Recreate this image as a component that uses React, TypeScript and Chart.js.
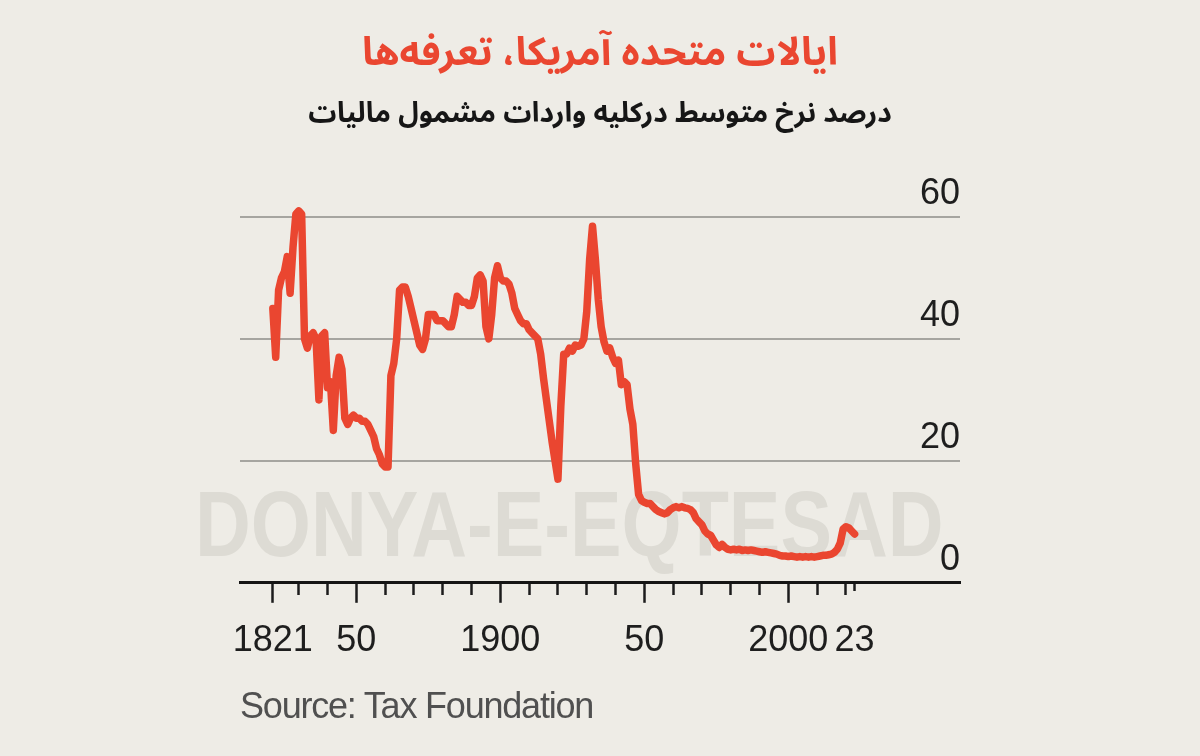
import React, { useEffect, useRef } from 'react';
import { Chart, registerables } from 'chart.js';

Chart.register(...registerables);

// ---- data (average tariff rate on dutiable imports, %) ----
const FIRST_YEAR = 1821;
const TARIFF_RATE: number[] = [
  // 1821-1830
  45, 37, 48, 50, 51, 53.5, 47.5, 55, 60.5, 61,
  // 1831-1840
  60.5, 40, 38.5, 40.5, 41, 40, 30, 40.5, 41, 32,
  // 1841-1850
  33, 25, 34, 37, 35, 27, 26, 27, 27.5, 27,
  // 1851-1860
  27, 26.5, 26.5, 26, 25, 24, 22, 21, 19.5, 19,
  // 1861-1870
  19, 34, 36, 40, 48, 48.5, 48.5, 47, 45, 43,
  // 1871-1880
  41, 39, 38.3, 40, 44, 44, 44, 43, 43, 43,
  // 1881-1890
  42.5, 42, 42, 44, 47, 46.5, 46, 46, 45.5, 45.5,
  // 1891-1900
  47, 50, 50.5, 49.5, 42, 40, 44, 50, 52, 50,
  // 1901-1910
  49.5, 49.5, 49, 47.5, 45, 44, 43, 42.5, 42.5, 41.5,
  // 1911-1920
  41, 40.5, 40, 37.5, 33.5, 30, 26.5, 23, 20, 17,
  // 1921-1930
  29, 37.5, 37.5, 38.5, 38, 39, 38.8, 39, 40, 44.5,
  // 1931-1940
  53, 58.5, 53, 46.5, 42, 39.5, 38, 38.5, 37, 36,
  // 1941-1950
  36.5, 32.5, 33, 32.5, 28.5, 26, 19.5, 14.5, 13.5, 13.2,
  // 1951-1960
  13, 13, 12.5, 12, 11.7, 11.5, 11.3, 11.5, 12, 12.3,
  // 1961-1970
  12.5, 12.3, 12.5, 12.3, 12.2, 12, 11.5, 10.5, 10, 9.5,
  // 1971-1980
  8.5, 8, 7.8, 7, 6.2, 5.8, 6.3, 5.8, 5.5, 5.4,
  // 1981-1990
  5.5, 5.4, 5.5, 5.3, 5.4, 5.3, 5.4, 5.3, 5.2, 5.1,
  // 1991-2000
  5.0, 5.1, 5.0, 4.9, 4.8, 4.7, 4.5, 4.4, 4.4, 4.3,
  // 2001-2010
  4.4, 4.3, 4.2, 4.3, 4.2, 4.3, 4.2, 4.3, 4.2, 4.3,
  // 2011-2020
  4.4, 4.5, 4.5, 4.6, 4.7, 5, 5.5, 6.5, 8.8, 9.2,
  // 2021-2023
  9, 8.5, 8,
];

const X_TICK_YEARS = [
  1821, 1830, 1840, 1850, 1860, 1870, 1880, 1890, 1900, 1910, 1920, 1930,
  1940, 1950, 1960, 1970, 1980, 1990, 2000, 2010, 2020, 2023,
];
const MAJOR_TICK_YEARS = [1821, 1850, 1900, 1950, 2000];
const END_TICK_YEARS = [2023];
const X_TICK_LABELS: Record<number, string> = {
  1821: '1821',
  1850: '50',
  1900: '1900',
  1950: '50',
  2000: '2000',
  2023: '23',
};
const Y_TICKS = [0, 20, 40, 60];

const TITLE = 'ایالات متحده آمریکا، تعرفه‌ها';
const SUBTITLE = 'درصد نرخ متوسط درکلیه واردات مشمول مالیات';
const SOURCE = 'Source: Tax Foundation';
const WATERMARK = 'DONYA-E-EQTESAD';

const LATIN_FONT = "'Liberation Sans', Arial, Helvetica, sans-serif";
const PERSIAN_FONT = "'Noto Sans Arabic', Vazirmatn, 'DejaVu Sans', sans-serif";
const RED = '#ea4630';
const BG = '#eeece6';

export default function App() {
  const canvasRef = useRef<HTMLCanvasElement | null>(null);

  useEffect(() => {
    const canvas = canvasRef.current;
    if (!canvas) return;
    const points = TARIFF_RATE.map((v, i) => ({ x: FIRST_YEAR + i, y: v }));

    const chart = new Chart(canvas, {
      type: 'line',
      data: {
        datasets: [
          {
            data: points,
            borderColor: RED,
            borderWidth: 7.5,
            pointRadius: 0,
            tension: 0,
            borderJoinStyle: 'round',
            borderCapStyle: 'round',
            clip: false as any,
          },
        ],
      },
      options: {
        animation: false,
        responsive: false,
        maintainAspectRatio: false,
        layout: { padding: { left: 240, right: 240, top: 217, bottom: 77 } },
        plugins: {
          legend: { display: false },
          tooltip: { enabled: false },
          title: { display: false },
        },
        scales: {
          x: {
            type: 'linear',
            min: 1809.6,
            max: 2059.6,
            afterBuildTicks: (scale: any) => {
              scale.ticks = X_TICK_YEARS.map((v) => ({ value: v }));
            },
            grid: {
              drawOnChartArea: false,
              drawTicks: true,
              tickLength: 20,
              tickColor: '#1c1c1c',
              tickWidth: 2.5,
              tickBorderDash: (ctx: any) => {
                const v = ctx.tick ? ctx.tick.value : 0;
                if (MAJOR_TICK_YEARS.includes(v)) return [19, 1000];
                if (END_TICK_YEARS.includes(v)) return [7, 1000];
                return [11, 1000];
              },
            } as any,
            border: { display: true, color: '#151515', width: 3 },
            ticks: {
              autoSkip: false,
              maxRotation: 0,
              minRotation: 0,
              padding: 16.5,
              color: '#1e1e1e',
              font: { family: LATIN_FONT, size: 36 },
              callback: (v: any) => X_TICK_LABELS[Number(v)] ?? '',
            },
          },
          y: {
            type: 'linear',
            position: 'right',
            min: 0,
            max: 60,
            afterBuildTicks: (scale: any) => {
              scale.ticks = Y_TICKS.map((v) => ({ value: v }));
            },
            grid: {
              drawTicks: false,
              lineWidth: 2,
              color: (ctx: any) =>
                ctx.tick && ctx.tick.value === 0 ? 'rgba(0,0,0,0)' : '#a6a5a0',
            },
            border: { display: false },
            ticks: {
              mirror: true,
              padding: 0,
              labelOffset: -23,
              color: '#1e1e1e',
              font: { family: LATIN_FONT, size: 36 },
              callback: (v: any) => String(v),
            },
          },
        },
      },
    });
    return () => chart.destroy();
  }, []);

  return (
    <div
      style={{
        position: 'fixed',
        left: 0,
        top: 0,
        width: 1200,
        height: 756,
        background: BG,
        overflow: 'hidden',
      }}
    >
      <div
        style={{
          position: 'absolute',
          left: 195,
          top: 478,
          fontFamily: LATIN_FONT,
          fontWeight: 'bold',
          fontSize: 92,
          lineHeight: 1,
          color: '#dddbd4',
          whiteSpace: 'nowrap',
          transform: 'scaleX(0.84)',
          transformOrigin: 'left top',
        }}
      >
        {WATERMARK}
      </div>
      <canvas
        ref={canvasRef}
        width={1200}
        height={756}
        style={{ position: 'absolute', left: 0, top: 0, width: 1200, height: 756 }}
      />
      <div
        dir="rtl"
        style={{
          position: 'absolute',
          left: 0,
          top: 27,
          width: 1200,
          textAlign: 'center',
          fontFamily: PERSIAN_FONT,
          fontWeight: 'bold',
          fontSize: 39,
          lineHeight: '52px',
          color: RED,
        }}
      >
        {TITLE}
      </div>
      <div
        dir="rtl"
        style={{
          position: 'absolute',
          left: 0,
          top: 92,
          width: 1200,
          textAlign: 'center',
          fontFamily: PERSIAN_FONT,
          fontWeight: 'bold',
          fontSize: 28,
          lineHeight: '44px',
          color: '#161616',
        }}
      >
        {SUBTITLE}
      </div>
      <div
        style={{
          position: 'absolute',
          left: 240,
          top: 688,
          fontFamily: LATIN_FONT,
          fontSize: 36,
          lineHeight: 1,
          letterSpacing: '-1.2px',
          color: '#505050',
          whiteSpace: 'nowrap',
        }}
      >
        {SOURCE}
      </div>
    </div>
  );
}
